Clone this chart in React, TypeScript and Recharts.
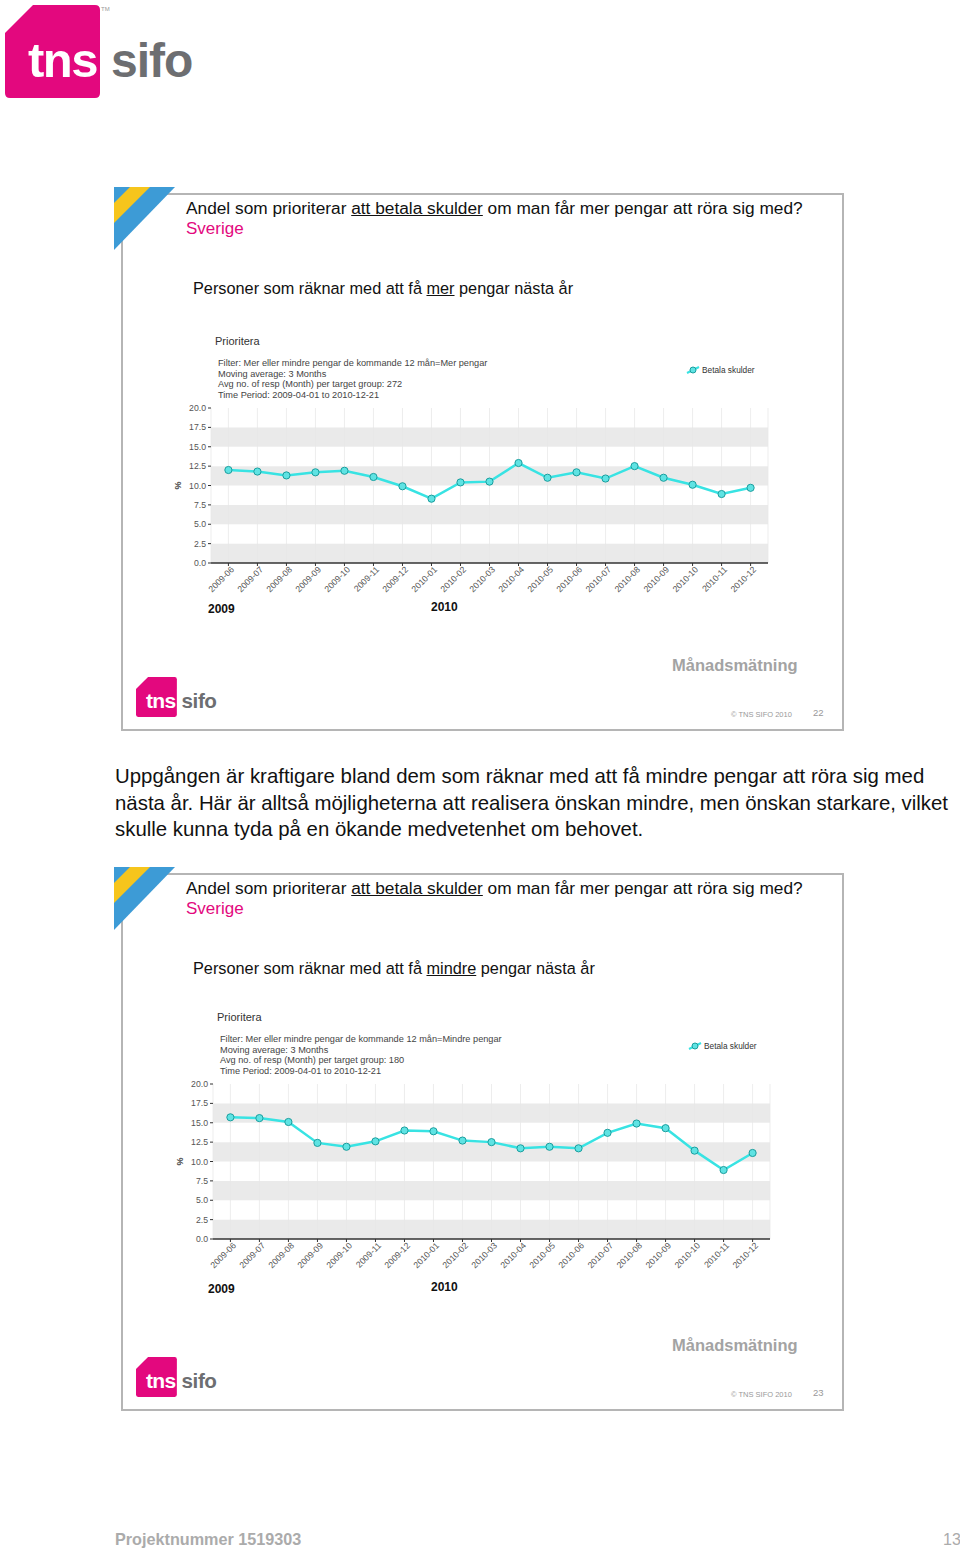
import * as React from "react";
import { LineChart, Line, XAxis, YAxis, CartesianGrid, ReferenceArea, Legend } from "recharts";

const MONTHS = [
  "2009-06", "2009-07", "2009-08", "2009-09", "2009-10", "2009-11", "2009-12",
  "2010-01", "2010-02", "2010-03", "2010-04", "2010-05", "2010-06", "2010-07",
  "2010-08", "2010-09", "2010-10", "2010-11", "2010-12",
];

// Betala skulder, 3-month moving average (%)
const MER_PENGAR = [12.0, 11.8, 11.3, 11.7, 11.9, 11.1, 9.9, 8.3, 10.4, 10.5, 12.9, 11.0, 11.7, 10.9, 12.5, 11.0, 10.1, 8.9, 9.7];
const MINDRE_PENGAR = [15.7, 15.6, 15.1, 12.4, 11.9, 12.6, 14.0, 13.9, 12.7, 12.5, 11.7, 11.9, 11.7, 13.7, 14.9, 14.3, 11.4, 8.9, 11.1];

const Y_TICKS = [0, 2.5, 5, 7.5, 10, 12.5, 15, 17.5, 20];
// grey background bands (ggplot-ish striping)
const BANDS = [[0, 2.5], [5, 7.5], [10, 12.5], [15, 17.5]];
const SERIES_NAME = "Betala skulder";

const PINK = "#e3087e";
const CYAN = "#38e3e3";
const FONT = "'Liberation Sans', Arial, sans-serif";

const X_TICKS = MONTHS.map((_, i) => i);

function T({ x, y, size, children, style }: any) {
  return (
    <div
      style={{
        position: "absolute",
        left: x,
        top: y - size * 0.6,
        fontSize: size,
        lineHeight: `${size * 1.2}px`,
        whiteSpace: "nowrap",
        ...style,
      }}
    >
      {children}
    </div>
  );
}

function Logo({ x, y, s }: { x: number; y: number; s: number }) {
  // s = scale of the 190x96 base logo
  return (
    <svg
      style={{ position: "absolute", left: x, top: y }}
      width={190 * s}
      height={96 * s}
      viewBox="0 0 190 96"
    >
      <path d="M28 0 L90 0 Q95 0 95 5 L95 88 Q95 93 90 93 L5 93 Q0 93 0 88 L0 28 Z" fill={PINK} />
      <text x={23} y={72} fontSize={49} fontWeight="bold" fill="#fff" fontFamily={FONT} letterSpacing={-1.5}>
        tns
      </text>
      <text x={106} y={72} fontSize={48} fontWeight="bold" fill="#6d6e71" fontFamily={FONT} letterSpacing={-1}>
        sifo
      </text>
      {s > 0.6 && (
        <text x={96} y={6} fontSize={6} fill="#999" fontFamily={FONT}>
          TM
        </text>
      )}
    </svg>
  );
}

function MonthTick({ x, y, payload }: any) {
  return (
    <text
      x={x + 4}
      y={y}
      transform={`rotate(-45 ${x + 4} ${y})`}
      textAnchor="end"
      dy="0.35em"
      fontSize={8.7}
      fill="#555"
      fontFamily={FONT}
    >
      {MONTHS[payload.value]}
    </text>
  );
}

function LegendContent() {
  return (
    <div style={{ display: "flex", alignItems: "center", fontSize: 8.3, color: "#333", fontFamily: FONT }}>
      <svg width={14} height={10}>
        <line x1={1} y1={8} x2={13} y2={2} stroke={CYAN} strokeWidth={2} />
        <circle cx={7} cy={5} r={3} fill="#5fe3e3" stroke="#1a9e9e" strokeWidth={1} />
      </svg>
      <span style={{ marginLeft: 2 }}>{SERIES_NAME}</span>
    </div>
  );
}

function PrioriteraChart({ values, left, top }: { values: number[]; left: number; top: number }) {
  const data = MONTHS.map((m, i) => ({ idx: i, month: m, value: values[i] }));
  return (
    <div style={{ position: "absolute", left, top }}>
      <LineChart width={610} height={290} data={data} margin={{ top: 78, right: 12, left: 0, bottom: 8 }}>
        <CartesianGrid stroke="#e9e9e9" strokeWidth={0.8} horizontal={false} />
        {BANDS.map(([a, b]) => (
          <ReferenceArea key={a} y1={a} y2={b} fill="#e6e6e6" fillOpacity={0.85} stroke="none" />
        ))}
        <XAxis
          dataKey="idx"
          type="number"
          domain={[-0.6, MONTHS.length - 0.4]}
          allowDataOverflow
          ticks={X_TICKS}
          interval={0}
          tick={<MonthTick />}
          tickSize={3}
          tickLine={{ stroke: "#333" }}
          axisLine={{ stroke: "#333", strokeWidth: 1.5 }}
          height={49}
        />
        <YAxis
          domain={[0, 20]}
          ticks={Y_TICKS}
          width={41}
          axisLine={false}
          tickSize={3}
          tickLine={{ stroke: "#333" }}
          tick={{ fontSize: 8.7, fill: "#555", fontFamily: FONT }}
          tickFormatter={(v: number) => v.toFixed(1)}
        />
        <Legend
          layout="horizontal"
          verticalAlign="middle"
          align="center"
          content={<LegendContent />}
          wrapperStyle={{ top: 35, left: 516, width: 100, height: 12 }}
        />
        <Line
          type="linear"
          dataKey="value"
          name={SERIES_NAME}
          stroke={CYAN}
          strokeWidth={2.5}
          dot={{ r: 3.6, fill: "#5fe3e3", stroke: "#1a9e9e", strokeWidth: 1 }}
          isAnimationActive={false}
        />
      </LineChart>
    </div>
  );
}

function Slide({ dy, subtitleWord, values, filterValue, resp, page, chartDx, chartDy }: any) {
  const cx = 170 + chartDx;
  const cy = 330 + chartDy;
  return (
    <>
      <div
        style={{
          position: "absolute",
          left: 121,
          top: 193 + dy,
          width: 723,
          height: 538,
          border: "2px solid #b5b5b5",
          boxSizing: "border-box",
        }}
      />
      <svg style={{ position: "absolute", left: 114, top: 187 + dy }} width={62} height={64}>
        <polygon points="0,0 61,0 0,63" fill="#3d9bd6" />
        <polygon points="16,0 36,0 0,36 0,16" fill="#f6c51c" />
      </svg>
      <T x={186} y={208 + dy} size={17.3} style={{ color: "#111" }}>
        Andel som prioriterar <u>att betala skulder</u> om man får mer pengar att röra sig med?
      </T>
      <T x={186} y={229 + dy} size={17} style={{ color: PINK }}>
        Sverige
      </T>
      <T x={193} y={289 + dy} size={16.3} style={{ color: "#111" }}>
        Personer som räknar med att få <u>{subtitleWord}</u> pengar nästa år
      </T>
      <T x={cx + 45} y={cy + 12} size={11} style={{ color: "#333" }}>
        Prioritera
      </T>
      {[
        `Filter: Mer eller mindre pengar de kommande 12 mån=${filterValue}`,
        "Moving average: 3 Months",
        `Avg no. of resp (Month) per target group: ${resp}`,
        "Time Period: 2009-04-01 to 2010-12-21",
      ].map((line, i) => (
        <T key={i} x={cx + 48} y={cy + 34 + i * 10.4} size={9.2} style={{ color: "#444" }}>
          {line}
        </T>
      ))}
      <PrioriteraChart values={values} left={cx} top={cy} />
      <T x={cx + 4} y={cy + 155} size={9} style={{ color: "#444", transform: "rotate(-90deg)", fontWeight: "bold" }}>
        %
      </T>
      <T x={208} y={609 + dy} size={12} style={{ fontWeight: "bold", color: "#111" }}>
        2009
      </T>
      <T x={431} y={607 + dy} size={12} style={{ fontWeight: "bold", color: "#111" }}>
        2010
      </T>
      <T x={672} y={666 + dy} size={16.5} style={{ fontWeight: "bold", color: "#a3a3a3" }}>
        Månadsmätning
      </T>
      <Logo x={136} y={677 + dy} s={0.43} />
      <T x={731} y={714 + dy} size={7.5} style={{ color: "#999" }}>
        © TNS SIFO 2010
      </T>
      <T x={813} y={713 + dy} size={9.5} style={{ color: "#999" }}>
        {page}
      </T>
    </>
  );
}

export default function App() {
  return (
    <div
      style={{
        position: "absolute",
        left: 0,
        top: 0,
        width: 960,
        height: 1553,
        overflow: "hidden",
        background: "#fff",
        fontFamily: FONT,
      }}
    >
      <Logo x={5} y={5} s={1} />
      <Slide
        dy={0}
        subtitleWord="mer"
        values={MER_PENGAR}
        filterValue="Mer pengar"
        resp={272}
        page={22}
        chartDx={0}
        chartDy={0}
      />
      <div
        style={{
          position: "absolute",
          left: 115,
          top: 763,
          fontSize: 20.4,
          lineHeight: "26.5px",
          color: "#111",
          whiteSpace: "nowrap",
        }}
      >
        Uppgången är kraftigare bland dem som räknar med att få mindre pengar att röra sig med
        <br />
        nästa år. Här är alltså möjligheterna att realisera önskan mindre, men önskan starkare, vilket
        <br />
        skulle kunna tyda på en ökande medvetenhet om behovet.
      </div>
      <Slide
        dy={680}
        subtitleWord="mindre"
        values={MINDRE_PENGAR}
        filterValue="Mindre pengar"
        resp={180}
        page={23}
        chartDx={2}
        chartDy={676}
      />
      <T x={115} y={1540} size={16.2} style={{ fontWeight: "bold", color: "#ababab" }}>
        Projektnummer 1519303
      </T>
      <T x={943} y={1540} size={16} style={{ color: "#ababab" }}>
        13
      </T>
    </div>
  );
}
